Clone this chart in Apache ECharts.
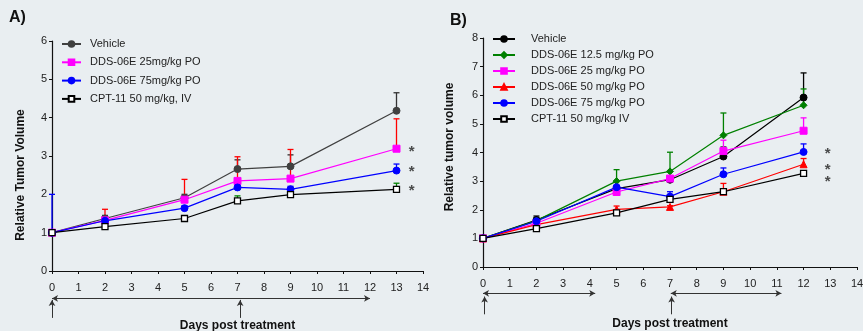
<!DOCTYPE html>
<html>
<head>
<meta charset="utf-8">
<script src="https://cdn.jsdelivr.net/npm/echarts@6/dist/echarts.min.js"></script>
<style>
  html, body { margin: 0; padding: 0; background: #e9eef1; }
  #chart { width: 863px; height: 331px; }
</style>
</head>
<body>
<div id="chart"></div>
<script>
// panel A
const daysA = [0, 2, 5, 7, 9, 13];
const vehicleA = [1, 1.37, 1.91, 2.66, 2.73, 4.18];
const vehicleASd = [0, 0.08, 0.09, 0.24, 0.3, 0.47];
const dds25A = [1, 1.32, 1.86, 2.35, 2.41, 3.19];
const dds25ASd = [0, 0.29, 0.53, 0.63, 0.76, 0.78];
const dds75A = [1, 1.31, 1.64, 2.18, 2.13, 2.62];
const dds75ASd = [1.0, 0.05, 0.06, 0.08, 0.08, 0.17];
const cptA = [1, 1.16, 1.37, 1.83, 1.99, 2.13];
const cptASd = [0, 0.03, 0.04, 0.13, 0.04, 0.16];
const starsA = [3.18, 2.66, 2.16];
const arrowsA = [[0, 12]];
const injectDaysA = [0, 7.1];

// panel B
const daysB = [0, 2, 5, 7, 9, 12];
const vehicleB = [1, 1.64, 2.74, 3.05, 3.86, 5.92];
const vehicleBSd = [0, 0.14, 0.05, 0.05, 0.33, 0.86];
const dds12B = [1, 1.62, 3.0, 3.34, 4.6, 5.65];
const dds12BSd = [0, 0.1, 0.4, 0.67, 0.78, 0.57];
const dds25B = [1, 1.53, 2.62, 3.09, 4.05, 4.76];
const dds25BSd = [0, 0.05, 0.05, 0.05, 0.38, 0.45];
const dds50B = [1, 1.48, 2.01, 2.1, 2.63, 3.59];
const dds50BSd = [0, 0.05, 0.12, 0.04, 0.29, 0.2];
const dds75B = [1, 1.6, 2.79, 2.46, 3.24, 4.02];
const dds75BSd = [0, 0.05, 0.05, 0.17, 0.22, 0.28];
const cptB = [1, 1.34, 1.89, 2.36, 2.63, 3.27];
const cptBSd = [0, 0.03, 0.03, 0.04, 0.05, 0.04];
const starsB = [4.07, 3.51, 3.07];
const arrowsB = [[0, 4.2], [7.03, 11.17]];
const injectDaysB = [0.06, 7.06];

const FONT = "'Liberation Sans', Arial, sans-serif";
const chart = echarts.init(document.getElementById('chart'));

function pairs(days, vals) {
  return days.map((d, i) => [d, vals[i]]);
}

function errData(days, vals, sd) {
  return days.map((d, i) => [d, vals[i], vals[i] + sd[i]]).filter((r) => r[2] > r[1]);
}

function errSeries(days, vals, sd, color, idx) {
  return {
    type: 'custom',
    xAxisIndex: idx,
    yAxisIndex: idx,
    z: 1,
    silent: true,
    data: errData(days, vals, sd),
    renderItem(params, api) {
      const p0 = api.coord([api.value(0), api.value(1)]);
      const p1 = api.coord([api.value(0), api.value(2)]);
      const st = { stroke: color, lineWidth: 1.3 };
      return {
        type: 'group',
        children: [
          { type: 'line', shape: { x1: p0[0], y1: p0[1], x2: p1[0], y2: p1[1] }, style: st },
          { type: 'line', shape: { x1: p1[0] - 3, y1: p1[1], x2: p1[0] + 3, y2: p1[1] }, style: st },
        ],
      };
    },
  };
}

function lineSeries(name, days, vals, color, symbol, idx, extra) {
  return Object.assign({
    name: name,
    type: 'line',
    xAxisIndex: idx,
    yAxisIndex: idx,
    z: 3,
    data: pairs(days, vals),
    symbol: symbol,
    symbolSize: 7,
    lineStyle: { color: color, width: 1.2 },
    itemStyle: { color: color, borderColor: color, borderWidth: 1 },
    emphasis: { disabled: true },
  }, extra || {});
}

function hollow(name, days, vals, idx) {
  return lineSeries(name, days, vals, '#000', 'rect', idx, {
    symbolSize: 6,
    itemStyle: { color: '#fff', borderColor: '#000', borderWidth: 1.3 },
  });
}

function stars(x, levels, idx) {
  return {
    type: 'scatter',
    xAxisIndex: idx,
    yAxisIndex: idx,
    symbol: 'circle',
    symbolSize: 1,
    itemStyle: { color: 'rgba(0,0,0,0)' },
    silent: true,
    z: 5,
    data: levels.map((v) => [x, v]),
    label: {
      show: true,
      formatter: '*',
      position: 'inside',
      offset: [0, 3],
      fontSize: 15,
      fontWeight: 'bold',
      color: '#222',
      fontFamily: FONT,
    },
  };
}

function arrowSeries(spans, injects, idx, hY, vTop, vBottom) {
  const lines = spans.map((s) => [
    { coord: [s[0], hY], symbol: 'arrow' },
    { coord: [s[1], hY], symbol: 'arrow' },
  ]).concat(injects.map((d) => [
    { coord: [d, vBottom], symbol: 'none' },
    { coord: [d, vTop], symbol: 'arrow' },
  ]));
  return {
    type: 'line',
    xAxisIndex: idx,
    yAxisIndex: idx,
    data: [],
    silent: true,
    markLine: {
      silent: true,
      symbolSize: [5, 6],
      label: { show: false },
      lineStyle: { color: '#333', width: 1, type: 'solid' },
      data: lines,
      animation: false,
    },
  };
}

const axisText = { color: '#222', fontSize: 11, fontFamily: FONT };
const nameText = { color: '#111', fontSize: 12, fontWeight: 'bold', fontFamily: FONT };

function xMain(idx, gap, margin) {
  return {
    type: 'value',
    gridIndex: idx,
    min: 0,
    max: 14,
    interval: 1,
    name: 'Days post treatment',
    nameLocation: 'middle',
    nameGap: gap,
    nameTextStyle: nameText,
    axisLine: { lineStyle: { color: '#111', width: 1.2 } },
    axisTick: { length: 3, lineStyle: { color: '#111' } },
    axisLabel: Object.assign({ margin: margin }, axisText),
    splitLine: { show: false },
  };
}

function yMain(idx, max, name, gap, pad) {
  return {
    type: 'value',
    gridIndex: idx,
    min: 0,
    max: max,
    interval: 1,
    name: name,
    nameLocation: 'middle',
    nameGap: gap,
    nameTextStyle: Object.assign({ padding: pad }, nameText),
    axisLine: { show: true, lineStyle: { color: '#111', width: 1.2 } },
    axisTick: { show: true, length: 3, lineStyle: { color: '#111' } },
    axisLabel: Object.assign({ margin: 5 }, axisText),
    splitLine: { show: false },
  };
}

function hiddenX(idx) {
  return { type: 'value', gridIndex: idx, min: 0, max: 14, show: false };
}
function hiddenY(idx) {
  return { type: 'value', gridIndex: idx, min: 0, max: 1, show: false };
}

const option = {
  backgroundColor: '#e9eef1',
  animation: false,
  textStyle: { fontFamily: FONT },
  title: [
    { text: 'A)', left: 4, top: 5, textStyle: { fontSize: 16, fontWeight: 'bold', color: '#111', fontFamily: FONT } },
    { text: 'B)', left: 445, top: 8, textStyle: { fontSize: 16, fontWeight: 'bold', color: '#111', fontFamily: FONT } },
  ],
  legend: [
    {
      orient: 'vertical',
      left: 56,
      top: 33,
      itemWidth: 19,
      itemHeight: 7,
      itemGap: 6.3,
      selectedMode: false,
      textStyle: { fontSize: 11, color: '#222', lineHeight: 12, padding: [0, 0, 0, 4], fontFamily: FONT },
      data: ['Vehicle', 'DDS-06E 25mg/kg PO', 'DDS-06E 75mg/kg PO', 'CPT-11 50 mg/kg, IV'],
    },
    {
      orient: 'vertical',
      left: 487,
      top: 28,
      itemWidth: 22,
      itemHeight: 7,
      itemGap: 4,
      selectedMode: false,
      textStyle: { fontSize: 11, color: '#222', lineHeight: 12, padding: [0, 0, 0, 11], fontFamily: FONT },
      data: ['Vehicle ', 'DDS-06E 12.5 mg/kg PO', 'DDS-06E 25 mg/kg PO', 'DDS-06E 50 mg/kg PO', 'DDS-06E 75 mg/kg PO', 'CPT-11 50 mg/kg IV'],
    },
  ],
  grid: [
    { left: 52, top: 41, width: 371, height: 230, outerBoundsMode: 'none' },
    { left: 483, top: 38, width: 374, height: 229, outerBoundsMode: 'none' },
    { left: 52, top: 290, width: 371, height: 30, outerBoundsMode: 'none' },
    { left: 483, top: 290, width: 374, height: 30, outerBoundsMode: 'none' },
  ],
  xAxis: [xMain(0, 49, 11), xMain(1, 51, 11), hiddenX(2), hiddenX(3)],
  yAxis: [
    yMain(0, 6, 'Relative Tumor Volume', 25, [0, 38, 0, 0]),
    yMain(1, 8, 'Relative tumor volume', 27, [0, 0, 0, 11]),
    hiddenY(2),
    hiddenY(3),
  ],
  series: [
    // panel A
    errSeries(daysA, vehicleA, vehicleASd, '#333', 0),
    errSeries(daysA, dds25A, dds25ASd, '#ff0000', 0),
    errSeries(daysA, dds75A, dds75ASd, '#0000ff', 0),
    errSeries(daysA, cptA, cptASd, '#008000', 0),
    lineSeries('Vehicle', daysA, vehicleA, '#404040', 'circle', 0),
    lineSeries('DDS-06E 25mg/kg PO', daysA, dds25A, '#ff00ff', 'rect', 0),
    lineSeries('DDS-06E 75mg/kg PO', daysA, dds75A, '#0000ff', 'circle', 0),
    hollow('CPT-11 50 mg/kg, IV', daysA, cptA, 0),
    stars(13.57, starsA, 0),
    // panel B
    errSeries(daysB, vehicleB, vehicleBSd, '#000', 1),
    errSeries(daysB, dds12B, dds12BSd, '#008000', 1),
    errSeries(daysB, dds25B, dds25BSd, '#ff00ff', 1),
    errSeries(daysB, dds50B, dds50BSd, '#ff0000', 1),
    errSeries(daysB, dds75B, dds75BSd, '#0000ff', 1),
    errSeries(daysB, cptB, cptBSd, '#000', 1),
    lineSeries('Vehicle ', daysB, vehicleB, '#000', 'circle', 1),
    lineSeries('DDS-06E 12.5 mg/kg PO', daysB, dds12B, '#008000', 'diamond', 1),
    lineSeries('DDS-06E 25 mg/kg PO', daysB, dds25B, '#ff00ff', 'rect', 1),
    lineSeries('DDS-06E 50 mg/kg PO', daysB, dds50B, '#ff0000', 'triangle', 1),
    lineSeries('DDS-06E 75 mg/kg PO', daysB, dds75B, '#0000ff', 'circle', 1),
    hollow('CPT-11 50 mg/kg IV', daysB, cptB, 1),
    stars(12.9, starsB, 1),
    // treatment arrows
    arrowSeries(arrowsA, injectDaysA, 2, 0.72, 0.67, 0.07),
    arrowSeries(arrowsB, injectDaysB, 3, 0.89, 0.78, 0.19),
  ],
};

chart.setOption(option);
</script>
</body>
</html>
